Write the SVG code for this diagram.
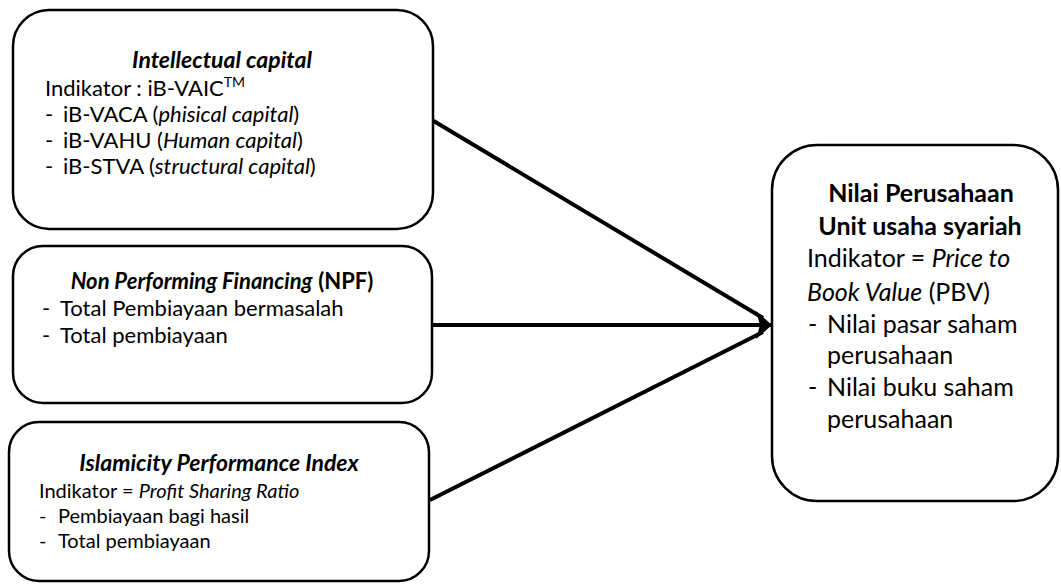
<svg xmlns="http://www.w3.org/2000/svg" width="1061" height="584" viewBox="0 0 1061 584">
<style>
.box{fill:#fff;stroke:#000;stroke-width:2.5}
text{font-family:Lato,"Liberation Sans",sans-serif;fill:#000;font-size:22px}
.t{font-weight:bold;font-style:italic;text-anchor:middle;font-size:23px}
.b{font-weight:bold}
.i{font-style:italic}
.s{font-size:20px}
.c{text-anchor:middle}
.r{font-size:25px}
.edge{stroke:#000;stroke-width:4;fill:none}
</style>
<defs>
<marker id="ah" markerUnits="userSpaceOnUse" markerWidth="20" markerHeight="30" refX="16" refY="14" orient="auto">
<path d="M0,0 L16,14 L0,28 L4,14 Z" fill="#000"/>
</marker>
</defs>
<g id="connectors">
<line class="edge" x1="432" y1="120" x2="763" y2="318"/>
<line class="edge" x1="432" y1="325" x2="772" y2="325" marker-end="url(#ah)"/>
<line class="edge" x1="430" y1="500" x2="763" y2="332"/>
</g>
<g id="n1">
<rect class="box" x="13" y="10" width="420" height="219" rx="36"/>
<text class="t" x="222" y="68">Intellectual capital</text>
<text x="45" y="96">Indikator : iB-VAIC<tspan font-size="14" dy="-9">TM</tspan></text>
<text x="45" y="122">-</text><text x="63" y="122">iB-VACA (<tspan class="i">phisical capital</tspan>)</text>
<text x="45" y="148">-</text><text x="63" y="148">iB-VAHU (<tspan class="i">Human capital</tspan>)</text>
<text x="45" y="174">-</text><text x="63" y="174">iB-STVA (<tspan class="i">structural capital</tspan>)</text>
</g>
<g id="n2">
<rect class="box" x="13" y="246" width="419" height="157" rx="30"/>
<text class="c" x="222" y="289" font-size="23"><tspan class="b i">Non Performing Financing</tspan> <tspan class="b">(NPF)</tspan></text>
<text x="42" y="316">-</text><text x="60" y="316">Total Pembiayaan bermasalah</text>
<text x="42" y="343">-</text><text x="60" y="343">Total pembiayaan</text>
</g>
<g id="n3">
<rect class="box" x="9" y="422" width="420" height="159" rx="30"/>
<text class="t" x="219" y="471">Islamicity Performance Index</text>
<text class="s" x="39" y="498">Indikator = <tspan class="i">Profit Sharing Ratio</tspan></text>
<text class="s" x="39" y="523">-</text><text class="s" x="58" y="523">Pembiayaan bagi hasil</text>
<text class="s" x="39" y="548">-</text><text class="s" x="58" y="548">Total pembiayaan</text>
</g>
<g id="n4">
<rect class="box" x="772" y="145" width="286" height="356" rx="45"/>
<text class="c b r" x="921" y="202">Nilai Perusahaan</text>
<text class="c b r" x="920" y="235">Unit usaha syariah</text>
<text class="r" x="807" y="267">Indikator = <tspan class="i">Price to</tspan></text>
<text class="r" x="807" y="301"><tspan class="i">Book Value</tspan> (PBV)</text>
<text class="r" x="808" y="333">-</text><text class="r" x="827" y="333">Nilai pasar saham</text>
<text class="r" x="827" y="364">perusahaan</text>
<text class="r" x="808" y="396">-</text><text class="r" x="827" y="396">Nilai buku saham</text>
<text class="r" x="827" y="428">perusahaan</text>
</g>
</svg>
